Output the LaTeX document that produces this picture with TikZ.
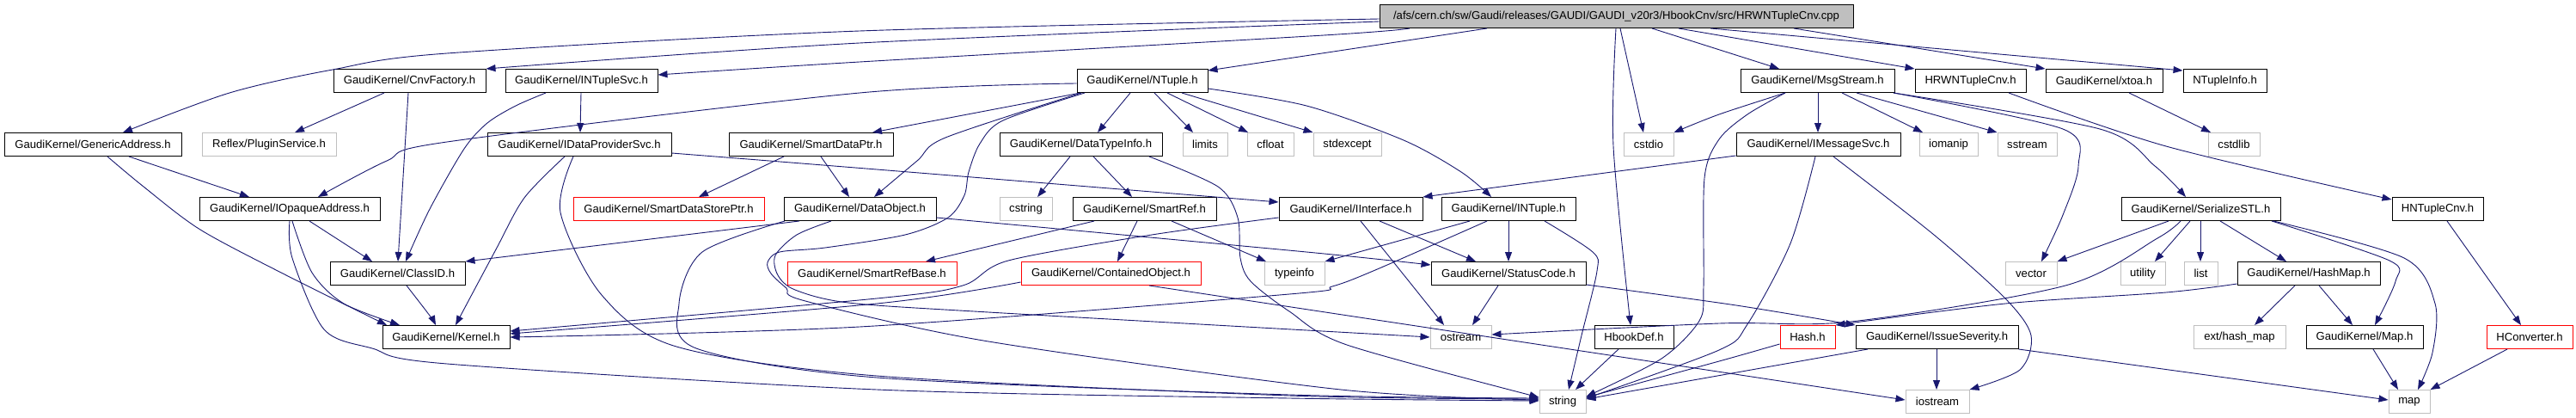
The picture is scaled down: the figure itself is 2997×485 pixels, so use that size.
\documentclass[tikz,border=0pt]{standalone}
\usepackage{fontspec}
\setmainfont{Liberation Sans}
\usetikzlibrary{arrows.meta}
\definecolor{edgeblue}{RGB}{25,25,112}
\definecolor{grayb}{RGB}{191,191,191}
\tikzset{
  box/.style={draw=black, line width=1pt, minimum height=27pt, inner sep=0pt, font=\fontsize{13.1}{15}\selectfont},
  sysbox/.style={box, draw=grayb},
  redbox/.style={box, draw=red},
  rootbox/.style={box, fill=grayb},
  e/.style={draw=edgeblue, line width=0.9pt, -{Triangle[length=11pt,width=8pt]}},
}
\begin{document}
\begin{tikzpicture}[x=1pt,y=-1pt]
\useasboundingbox (0,0) rectangle (2997,485);
\fill[white] (0,0) rectangle (2997,485);
% nodes
\node[rootbox,minimum width=551pt] (root) at (1880.5,19) {/afs/cern.ch/sw/Gaudi/releases/GAUDI/GAUDI\_v20r3/HbookCnv/src/HRWNTupleCnv.cpp};
\node[box,minimum width=206pt] (ga) at (108,168) {GaudiKernel/GenericAddress.h};
\node[sysbox,minimum width=156pt] (plugin) at (313,168) {Reflex/PluginService.h};
\node[box,minimum width=177pt] (cnv) at (476.5,94) {GaudiKernel/CnvFactory.h};
\node[box,minimum width=210pt] (ioa) at (337,243) {GaudiKernel/IOpaqueAddress.h};
\node[box,minimum width=157pt] (classid) at (462.5,318) {GaudiKernel/ClassID.h};
\node[box,minimum width=148pt] (kernel) at (519,392) {GaudiKernel/Kernel.h};
\node[box,minimum width=177pt] (nts) at (676.5,94) {GaudiKernel/INTupleSvc.h};
\node[box,minimum width=214pt] (idp) at (674,168) {GaudiKernel/IDataProviderSvc.h};
\node[box,minimum width=191pt] (sdp) at (943.5,168) {GaudiKernel/SmartDataPtr.h};
\node[redbox,minimum width=222pt] (sdsp) at (778,243) {GaudiKernel/SmartDataStorePtr.h};
\node[box,minimum width=177pt] (dobj) at (1000.5,243) {GaudiKernel/DataObject.h};
\node[redbox,minimum width=197pt] (srb) at (1014.5,318) {GaudiKernel/SmartRefBase.h};
\node[box,minimum width=152pt] (ntp) at (1329,94) {GaudiKernel/NTuple.h};
\node[box,minimum width=189pt] (dti) at (1257.5,168) {GaudiKernel/DataTypeInfo.h};
\node[sysbox,minimum width=52pt] (limits) at (1402,168) {limits};
\node[sysbox,minimum width=54pt] (cfloat) at (1478,168) {cfloat};
\node[sysbox,minimum width=79pt] (stdexc) at (1567.5,168) {stdexcept};
\node[sysbox,minimum width=61pt] (cstring) at (1193.5,243) {cstring};
\node[box,minimum width=167pt] (smartref) at (1331.5,243) {GaudiKernel/SmartRef.h};
\node[redbox,minimum width=209pt] (cobj) at (1292.5,318) {GaudiKernel/ContainedObject.h};
\node[sysbox,minimum width=70pt] (typeinfo) at (1506,318) {typeinfo};
\node[box,minimum width=167pt] (iint) at (1571.5,243) {GaudiKernel/IInterface.h};
\node[box,minimum width=156pt] (intuple) at (1755,243) {GaudiKernel/INTuple.h};
\node[box,minimum width=180pt] (sc) at (1755,318) {GaudiKernel/StatusCode.h};
\node[sysbox,minimum width=71pt] (ostream) at (1699.5,392) {ostream};
\node[box,minimum width=92pt] (hbd) at (1901,392) {HbookDef.h};
\node[sysbox,minimum width=54pt] (string) at (1818,467) {string};
\node[sysbox,minimum width=58pt] (cstdio) at (1918,168) {cstdio};
\node[box,minimum width=179pt] (ms) at (2114.5,94) {GaudiKernel/MsgStream.h};
\node[box,minimum width=129pt] (hrw) at (2292.5,94) {HRWNTupleCnv.h};
\node[box,minimum width=136pt] (xtoa) at (2448,94) {GaudiKernel/xtoa.h};
\node[box,minimum width=97pt] (nti) at (2588.5,94) {NTupleInfo.h};
\node[box,minimum width=191pt] (ims) at (2115.5,168) {GaudiKernel/IMessageSvc.h};
\node[sysbox,minimum width=68pt] (iomanip) at (2267,168) {iomanip};
\node[sysbox,minimum width=69pt] (sstream) at (2358.5,168) {sstream};
\node[sysbox,minimum width=60pt] (cstdlib) at (2599,168) {cstdlib};
\node[box,minimum width=185pt] (sstl) at (2560.5,243) {GaudiKernel/SerializeSTL.h};
\node[box,minimum width=106pt] (hnt) at (2836,243) {HNTupleCnv.h};
\node[sysbox,minimum width=60pt] (vector) at (2363,318) {vector};
\node[sysbox,minimum width=52pt] (utility) at (2493,318) {utility};
\node[sysbox,minimum width=39pt] (list) at (2560.5,318) {list};
\node[box,minimum width=166pt] (hashmap) at (2686,318) {GaudiKernel/HashMap.h};
\node[redbox,minimum width=64pt] (hash) at (2103,392) {Hash.h};
\node[box,minimum width=189pt] (issue) at (2253.5,392) {GaudiKernel/IssueSeverity.h};
\node[sysbox,minimum width=107pt] (exthm) at (2605.5,392) {ext/hash\_map};
\node[box,minimum width=136pt] (mapH) at (2751,392) {GaudiKernel/Map.h};
\node[redbox,minimum width=100pt] (hconv) at (2943,392) {HConverter.h};
\node[sysbox,minimum width=74pt] (iostream) at (2254,467) {iostream};
\node[sysbox,minimum width=48pt] (mapstd) at (2803,467) {map};
% edges from root
\draw[e] plot[smooth] coordinates {(root.west |- 0,22) (1000,36) (520,62) (387,81) (267,108) (ga.north -| 143,0)};
\draw[e] plot[smooth] coordinates {(root.west |- 0,25) (1000,50) (cnv.north east)};
\draw[e] plot[smooth] coordinates {(root.south -| 1640,0) (1540,41) (1000,72) (nts.east |- 0,87)};
\draw[e] (root.south -| 1730,0) -- (ntp.east |- 0,82);
\draw[e] (root.south -| 1885,0) -- (cstdio.north -| 1912,0);
\draw[e] plot[smooth] coordinates {(root.south -| 1880,0) (1877,170) (hbd.north -| 1897,0)};
\draw[e] (root.south -| 1922,0) -- (ms.north -| 2070,0);
\draw[e] (root.south -| 1953,0) -- (hrw.north west);
\draw[e] (root.south -| 2087,0) -- (xtoa.north west);
\draw[e] (root.south -| 1990,0) -- (nti.west |- 0,82);
% left part
\draw[e] plot[smooth] coordinates {(ga.south -| 125,0) (167,217) (233,267) (333,320) (kernel.north -| 450,0)};
\draw[e] (ga.south -| 150,0) -- (ioa.north -| 290,0);
\draw[e] (cnv.south -| 447,0) -- (plugin.north -| 343,0);
\draw[e] (cnv.south -| 475,0) -- (classid.north -| 463,0);
\draw[e] plot[smooth] coordinates {(nts.south -| 635,0) (600,123) (567,143) (540,173) (500,243) (classid.north -| 472,0)};
\draw[e] (nts.south -| 676,0) -- (idp.north -| 675,0);
\draw[e] (ioa.south -| 360,0) -- (classid.north -| 433,0);
\draw[e] plot[smooth] coordinates {(ioa.south -| 340,0) (363,317) (400,353) (kernel.north -| 465,0)};
\draw[e] plot[smooth] coordinates {(ioa.south -| 337,0) (340,300) (377,383) (433,405) (520,423) (1020,453) (1500,463) (string.west |- 0,466)};
\draw[e] plot[smooth] coordinates {(classid.south -| 473,0) (500,367) (kernel.north -| 507,0)};
\draw[e] plot[smooth] coordinates {(idp.south -| 657,0) (610,230) (577,290) (kernel.north -| 530,0)};
\draw[e] plot[smooth] coordinates {(idp.south -| 667,0) (652,247) (700,343) (787,403) (1020,437) (1500,460) (string.west |- 0,464)};
\draw[e] plot[smooth] coordinates {(idp.east |- 0,178) (1020,197) (iint.west |- 0,235)};
\draw[e] (sdp.south -| 912,0) -- (sdsp.north -| 813,0);
\draw[e] (sdp.south -| 955,0) -- (dobj.north -| 988,0);
% NTuple
\draw[e] plot[smooth] coordinates {(ntp.west |- 0,97) (1000,108) (520,165) (450,187) (ioa.north -| 370,0)};
\draw[e] (ntp.south -| 1257,0) -- (sdp.north -| 1015,0);
\draw[e] plot[smooth] coordinates {(ntp.south -| 1258,0) (1100,160) (1067,187) (dobj.north -| 1017,0)};
\draw[e] plot[smooth] coordinates {(ntp.south -| 1262,0) (1167,140) (1140,167) (1127,200) (1122,227) (1103,253) (1053,273) (960,288) (907,293) (893,305) (897,318) (915,335) (937,350) (1150,397) (1560,453) (string.west |- 0,465)};
\draw[e] (ntp.south -| 1315,0) -- (dti.north -| 1277,0);
\draw[e] (ntp.south -| 1343,0) -- (limits.north -| 1388,0);
\draw[e] (ntp.south -| 1358,0) -- (cfloat.north -| 1452,0);
\draw[e] (ntp.south -| 1375,0) -- (stdexc.north west);
\draw[e] plot[smooth] coordinates {(ntp.east |- 0,103) (1520,123) (1633,163) (1700,200) (intuple.north -| 1735,0)};
% DataTypeInfo
\draw[e] (dti.south -| 1245,0) -- (cstring.north -| 1207,0);
\draw[e] (dti.south -| 1272,0) -- (smartref.north -| 1317,0);
\draw[e] plot[smooth] coordinates {(dti.south -| 1337,0) (1417,217) (1440,253) (1443,300) (1455,327) (1500,362) (1567,401) (string.west |- 0,462)};
% SmartRef
\draw[e] (smartref.south -| 1273,0) -- (srb.north -| 1077,0);
\draw[e] (smartref.south -| 1323,0) -- (cobj.north -| 1300,0);
\draw[e] (smartref.south -| 1363,0) -- (typeinfo.north -| 1473,0);
% DataObject
\draw[e] (dobj.south -| 930,0) -- (classid.north east);
\draw[e] plot[smooth] coordinates {(dobj.south -| 913,0) (817,293) (790,353) (810,405) (1020,439) (1500,459) (string.west |- 0,463)};
\draw[e] plot[smooth] coordinates {(dobj.south -| 967,0) (927,273) (902,297) (905,320) (925,337) (987,352) (1150,363) (ostream.west |- 0,392)};
\draw[e] plot[smooth] coordinates {(dobj.east |- 0,253) (1520,293) (sc.west |- 0,308)};
% IInterface
\draw[e] plot[smooth] coordinates {(iint.west |- 0,253) (1340,273) (1173,303) (1120,332) (1020,347) (kernel.east |- 0,385)};
\draw[e] (iint.south -| 1583,0) -- (ostream.north -| 1680,0);
\draw[e] (iint.south -| 1605,0) -- (sc.north -| 1717,0);
% INTuple
\draw[e] (intuple.south -| 1710,0) -- (typeinfo.north east);
\draw[e] plot[smooth] coordinates {(intuple.south -| 1730,0) (1600,314) (1550,333) (1500,342) (1000,380) (kernel.east |- 0,392)};
\draw[e] (intuple.south) -- (sc.north);
\draw[e] plot[smooth] coordinates {(intuple.south -| 1797,0) (1853,293) (1858,315) (1840,390) (string.north -| 1825,0)};
% ContainedObject, StatusCode, HbookDef
\draw[e] plot[smooth] coordinates {(cobj.west |- 0,328) (1020,353) (kernel.east |- 0,388)};
\draw[e] (cobj.south -| 1337,0) -- (iostream.west |- 0,465);
\draw[e] (sc.south -| 1743,0) -- (ostream.north -| 1713,0);
\draw[e] plot[smooth] coordinates {(sc.east |- 0,331) (2020,355) (issue.north west)};
\draw[e] (hbd.south -| 1883,0) -- (string.north -| 1833,0);
% MsgStream
\draw[e] plot[smooth] coordinates {(ms.south -| 2077,0) (2000,133) (cstdio.north east)};
\draw[e] plot[smooth] coordinates {(ms.south -| 2077,0) (2033,133) (2000,162) (1983,207) (1982,333) (1977,373) (1933,417) (string.east |- 0,461)};
\draw[e] (ms.south -| 2115,0) -- (ims.north -| 2115,0);
\draw[e] (ms.south -| 2143,0) -- (iomanip.north -| 2237,0);
\draw[e] (ms.south -| 2160,0) -- (sstream.north west);
\draw[e] plot[smooth] coordinates {(ms.south -| 2203,0) (2400,150) (2418,193) (2400,250) (vector.north -| 2375,0)};
\draw[e] plot[smooth] coordinates {(ms.south -| 2203,0) (2443,150) (2507,193) (sstl.north -| 2543,0)};
% IMessageSvc
\draw[e] (ims.west |- 0,181) -- (iint.north east);
\draw[e] plot[smooth] coordinates {(ims.south -| 2112,0) (2083,283) (2033,377) (2000,407) (string.east |- 0,463)};
\draw[e] plot[smooth] coordinates {(ims.south -| 2133,0) (2250,273) (2333,347) (2363,390) (2350,430) (iostream.north east)};
% right part
\draw[e] plot[smooth] coordinates {(hrw.south -| 2337,0) (2520,170) (hnt.west |- 0,232)};
\draw[e] (xtoa.south -| 2477,0) -- (cstdlib.north -| 2572,0);
\draw[e] (sstl.south -| 2523,0) -- (vector.north east);
\draw[e] plot[smooth] coordinates {(sstl.south -| 2537,0) (2510,277) (2403,332) (2153,374) (2000,376) (ostream.east |- 0,389)};
\draw[e] (sstl.south -| 2548,0) -- (utility.north -| 2507,0);
\draw[e] (sstl.south -| 2560,0) -- (list.north -| 2560,0);
\draw[e] (sstl.south -| 2583,0) -- (hashmap.north -| 2660,0);
\draw[e] plot[smooth] coordinates {(sstl.south -| 2643,0) (2780,303) (2787,327) (mapH.north -| 2763,0)};
\draw[e] plot[smooth] coordinates {(sstl.south -| 2645,0) (2797,300) (2833,353) (2830,410) (mapstd.north -| 2813,0)};
\draw[e] plot[smooth] coordinates {(hashmap.west |- 0,330) (2520,340) (2333,353) (hash.north east)};
\draw[e] (hashmap.south -| 2670,0) -- (exthm.north -| 2623,0);
\draw[e] (hashmap.south -| 2698,0) -- (mapH.north -| 2737,0);
\draw[e] plot[smooth] coordinates {(hash.west |- 0,400) (2000,420) (string.east |- 0,462)};
\draw[e] (issue.south -| 2173,0) -- (string.east |- 0,464);
\draw[e] (issue.south -| 2253,0) -- (iostream.north -| 2253,0);
\draw[e] (issue.south east) -- (mapstd.west |- 0,465);
\draw[e] (mapH.south -| 2761,0) -- (mapstd.north -| 2790,0);
\draw[e] (hnt.south -| 2847,0) -- (hconv.north -| 2933,0);
\draw[e] (hconv.south -| 2917,0) -- (mapstd.north east);
\end{tikzpicture}
\end{document}
